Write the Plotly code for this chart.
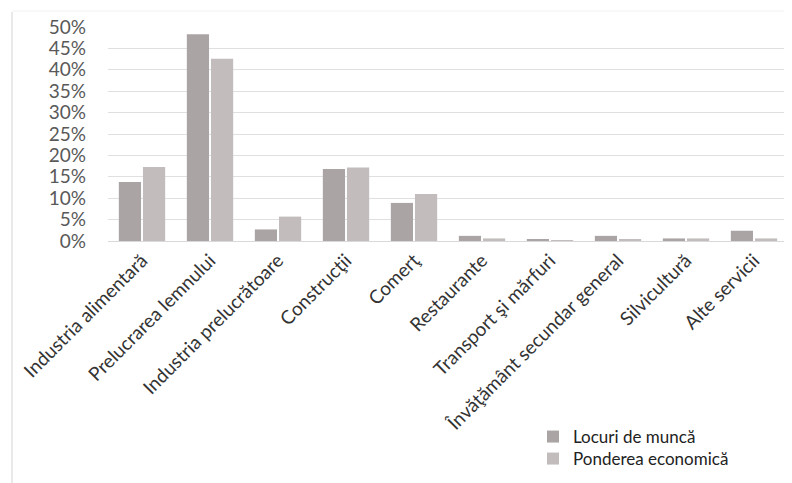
import plotly.graph_objects as go

categories = ["Industria alimentară", "Prelucrarea lemnului", "Industria prelucrătoare",
              "Construcţii", "Comerţ", "Restaurante", "Transport şi mărfuri",
              "Învăţământ secundar general", "Silvicultură", "Alte servicii"]
locuri = [0.138, 0.483, 0.027, 0.168, 0.089, 0.012, 0.003, 0.012, 0.006, 0.024]
ponderea = [0.173, 0.426, 0.057, 0.172, 0.110, 0.006, 0.0005, 0.004, 0.006, 0.006]
yticks = [0, 0.05, 0.10, 0.15, 0.20, 0.25, 0.30, 0.35, 0.40, 0.45, 0.50]

OFF = 8  # page body margin in the browser
W, H = 792 - OFF, 483 - OFF
L, R, T = 108 - OFF, 4, 27 - OFF
B = H - (241 - OFF)
PW, PH = W - L - R, H - T - B


def px_x(px):
    return (px - OFF - L) / PW


def px_y(py):
    return (H - B - (py - OFF)) / PH


fig = go.Figure()
fig.add_bar(x=categories, y=locuri, name="Locuri de muncă", legend="legend",
            marker=dict(color="#aba4a4", line=dict(width=0)))
fig.add_bar(x=categories, y=ponderea, name="Ponderea economică", legend="legend2",
            marker=dict(color="#c2bcbc", line=dict(width=0)))

leg_common = dict(xanchor="left", yanchor="middle",
                  font=dict(size=17, color="#222222"), bgcolor="rgba(0,0,0,0)",
                  itemwidth=30)

fig.update_layout(
    width=W, height=H,
    margin=dict(l=L, r=R, t=T, b=B, pad=0, autoexpand=False),
    paper_bgcolor="white", plot_bgcolor="white",
    barmode="group", bargap=0.29, bargroupgap=0.08,
    font=dict(family="Lato, Open Sans, sans-serif", color="#404040"),
    xaxis=dict(tickangle=-45, tickfont=dict(size=19, color="#333333"),
               showgrid=False, showline=True, linecolor="#d9d9d9", ticks="",
               automargin=False),
    yaxis=dict(range=[0, 0.5], tickvals=yticks, tickformat=".0%",
               tickfont=dict(size=19, color="#595959"),
               gridcolor="#e0e0e0", gridwidth=1, zeroline=False, ticks="",
               ticklabelstandoff=21, automargin=False),
    legend=dict(x=px_x(533), y=px_y(437), **leg_common),
    legend2=dict(x=px_x(533), y=px_y(459), **leg_common),
    showlegend=True,
)
fig.add_shape(type="line", xref="paper", yref="paper",
              x0=px_x(12), x1=px_x(12), y0=px_y(483), y1=px_y(12),
              line=dict(color="#d4d4d4", width=1))
fig.add_shape(type="line", xref="paper", yref="paper",
              x0=px_x(12), x1=px_x(792), y0=px_y(11), y1=px_y(11),
              line=dict(color="#f0f0f0", width=1))
fig.write_html("out.html")
